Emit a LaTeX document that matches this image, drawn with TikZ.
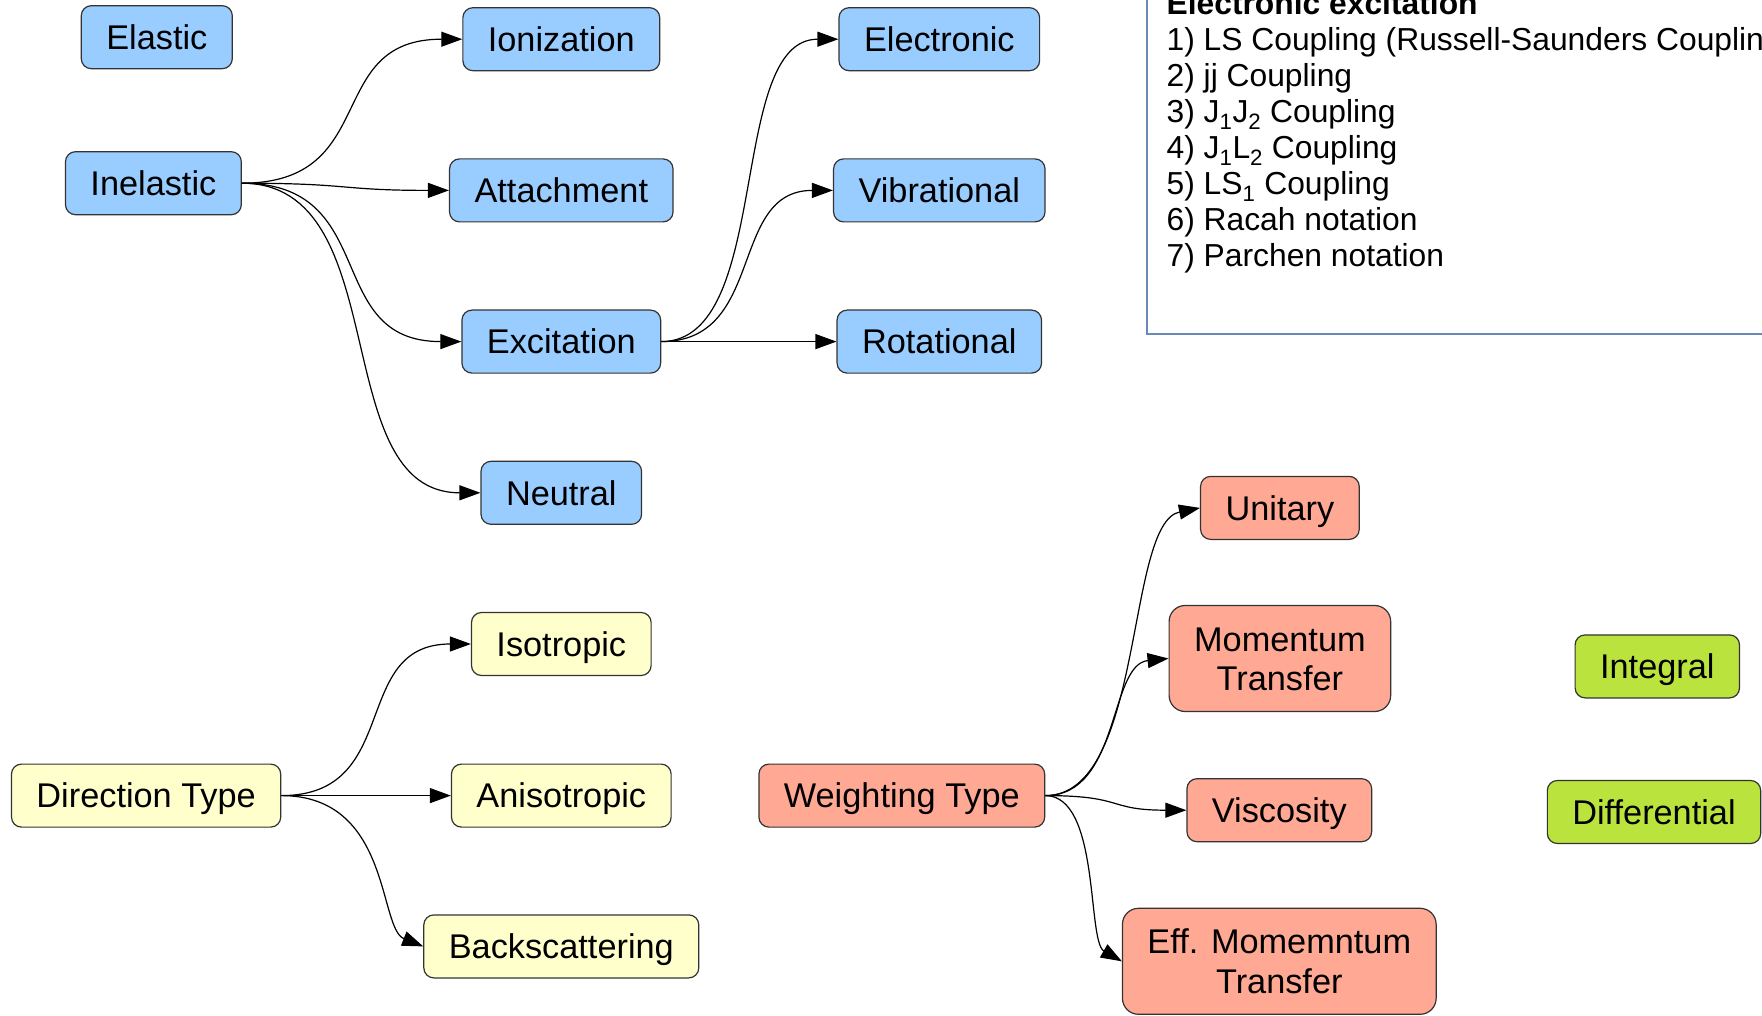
\documentclass[tikz,border=0pt]{standalone}
\usepackage{fontspec}
\setmainfont{Liberation Sans}
\usetikzlibrary{arrows.meta}
\definecolor{boxblue}{HTML}{99CCFF}
\definecolor{boxsalmon}{HTML}{FFA994}
\definecolor{boxyellow}{HTML}{FFFFCC}
\definecolor{boxgreen}{HTML}{BBE33D}
\definecolor{boxline}{HTML}{333333}
\definecolor{noteline}{HTML}{6A89B8}
\begin{document}
\begin{tikzpicture}[x=1pt,y=-1pt,
  box/.style={draw=boxline, line width=1.2pt, rounded corners=10pt,
    minimum height=63pt, inner xsep=25pt, inner ysep=0pt,
    text height=24.6pt, text depth=0pt,
    font=\fontsize{34.3}{39.4}\selectfont, align=center},
  tallbox/.style={box, minimum height=106pt, rounded corners=16pt,
    text height=64pt, text depth=0pt},
  blue/.style={box, fill=boxblue},
  yel/.style={box, fill=boxyellow},
  sal/.style={box, fill=boxsalmon},
  talsal/.style={tallbox, fill=boxsalmon},
  grn/.style={box, fill=boxgreen},
  conn/.style={draw=black, line width=1.2pt, -{Triangle[length=21pt,width=15pt]}},
  notetext/.style={anchor=base west, inner sep=0pt, font=\fontsize{31.8}{36}\selectfont},
  noteframe/.style={draw=noteline, line width=1.8pt}
]
\useasboundingbox (0,0) rectangle (1762,1016);

% note box
\draw[noteframe] (1147.3,-3) -- (1147.3,333.7) -- (1765,333.7);
\node[notetext] (t0) at (1166.4,14.7) {\textbf{Electronic excitation}};
\node[notetext] (t1) at (1166.4,50.7) {1) LS Coupling (Russell-Saunders Coupling)};
\node[notetext] (t2) at (1166.4,86.7) {2) jj Coupling};
\node[notetext] (t3) at (1166.4,122.7) {3) J\textsubscript{1}J\textsubscript{2} Coupling};
\node[notetext] (t4) at (1166.4,158.7) {4) J\textsubscript{1}L\textsubscript{2} Coupling};
\node[notetext] (t5) at (1166.4,194.7) {5) LS\textsubscript{1} Coupling};
\node[notetext] (t6) at (1166.4,230.7) {6) Racah notation};
\node[notetext] (t7) at (1166.4,266.7) {7) Parchen notation};

% blue nodes
\node[blue] (elastic) at (156.8,37.2) {Elastic};
\node[blue] (inel) at (153.4,183.2) {Inelastic};
\node[blue] (ion) at (561.3,39.2) {Ionization};
\node[blue] (att) at (561.3,190.4) {Attachment};
\node[blue] (exc) at (561.3,341.6) {Excitation};
\node[blue] (neu) at (561.3,492.8) {Neutral};
\node[blue] (elec) at (939.3,39.2) {Electronic};
\node[blue] (vib) at (939.3,190.4) {Vibrational};
\node[blue] (rot) at (939.3,341.6) {Rotational};

% yellow nodes
\node[yel] (dir) at (146.1,795.6) {Direction Type};
\node[yel] (iso) at (561.3,644) {Isotropic};
\node[yel] (aniso) at (561.3,795.6) {Anisotropic};
\node[yel] (back) at (561.3,946.4) {Backscattering};

% salmon nodes
\node[sal] (wt) at (901.8,795.6) {Weighting Type};
\node[sal] (uni) at (1279.9,507.9) {Unitary};
\node[talsal] (mom) at (1279.9,658.5) {Momentum\\Transfer};
\node[sal] (visc) at (1279.3,810.2) {Viscosity};
\node[talsal] (eff) at (1279.3,961.3) {Eff. Momemntum\\Transfer};

% green nodes
\node[grn] (integ) at (1657.3,666.4) {Integral};
\node[grn] (diff) at (1654,812) {Differential};

% connectors
\draw[conn] (inel.east) .. controls +(140,0) and +(-140,0) .. (ion.west);
\draw[conn] (inel.east) .. controls +(110,0) and +(-110,0) .. (att.west);
\draw[conn] (inel.east) .. controls +(140,0) and +(-140,0) .. (exc.west);
\draw[conn] (inel.east) .. controls +(155,0) and +(-155,0) .. (neu.west);

\draw[conn] (exc.east) .. controls +(112,0) and +(-112,0) .. (elec.west);
\draw[conn] (exc.east) .. controls +(105,0) and +(-105,0) .. (vib.west);
\draw[conn] (exc.east) -- (rot.west);

\draw[conn] (dir.east) .. controls +(122,0) and +(-122,0) .. (iso.west);
\draw[conn] (dir.east) -- (aniso.west);
\draw[conn] (dir.east) .. controls +(110,0) and +(-45,-18) .. (back.west);

\draw[conn] (wt.east) .. controls +(100,0) and +(-75,15) .. (uni.west);
\draw[conn] (wt.east) .. controls +(75,0) and +(-60,6) .. (mom.west);
\draw[conn] (wt.east) .. controls +(80,0) and +(-80,0) .. (visc.west);
\draw[conn] (wt.east) .. controls +(55,0) and +(-35,-20) .. (eff.west);
\end{tikzpicture}
\end{document}
